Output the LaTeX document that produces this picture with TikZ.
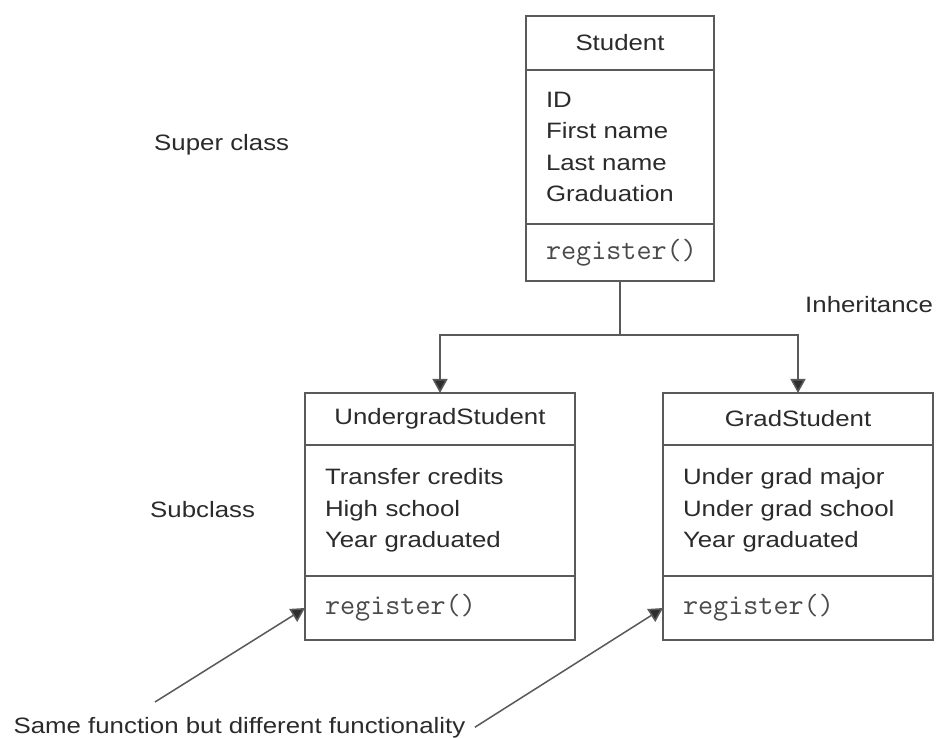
\documentclass[tikz,border=0pt]{standalone}
\usepackage{fontspec}
\setmainfont{Liberation Sans}[FakeStretch=1.16]
\usetikzlibrary{
    arrows.meta,
    positioning
}
\definecolor{linecol}{HTML}{5A5A5A}
\definecolor{tipcol}{HTML}{2E2E2E}
\definecolor{textcol}{HTML}{2B2B2B}
\definecolor{codecol}{HTML}{4A4A4A}

\begin{document}
\begin{tikzpicture}[
    x=0.03cm, y=-0.03cm,
    font=\fontsize{19}{26.7}\selectfont,
    text=textcol,
    % ── Class Box Styles ──
    box/.style={
        draw=linecol, line width=1.3pt,
        outer sep=0pt, fill=white
    },
    clsname/.style={
        box, anchor=north west, inner sep=0pt,
        minimum width=#1, minimum height=1.56cm
    },
    clsattr/.style={
        box, text width=#1, inner xsep=0.6cm, inner ysep=0pt,
        align=left, minimum height=3.93cm
    },
    clsops/.style={
        box, text width=#1, inner xsep=0.6cm, inner ysep=0pt,
        align=left, minimum height=1.92cm,
        font=\ttfamily\fontsize{25}{26.7}\selectfont, text=codecol
    },
    % ── Arrow Styles ──
    line/.style={draw=linecol, line width=1.3pt},
    arr/.style={line, -{Triangle[length=0.42cm, width=0.45cm, fill=tipcol]}},
    % ── Label Styles ──
    lbl/.style={anchor=base west, inner sep=0pt},
]

\useasboundingbox[fill=white] (0,0) rectangle (938,738);

% ────────────────────────────────
%  SUPER CLASS
% ────────────────────────────────
\node[clsname=5.64cm, minimum height=1.62cm] (stuName) at (526,16) {Student};
\node[clsattr=4.44cm, minimum height=4.62cm, below=0pt of stuName] (stuAttr) {
    ID\\
    First name\\
    Last name\\
    Graduation
};
\node[clsops=4.44cm, minimum height=1.71cm, below=0pt of stuAttr] (stuOps) {register()};

\node[lbl] (superLbl) at (154,151) {Super class};

% ────────────────────────────────
%  SUBCLASSES
% ────────────────────────────────
\node[clsname=8.1cm] (ugName) at (305,393) {UndergradStudent};
\node[clsattr=6.9cm, below=0pt of ugName] (ugAttr) {
    Transfer credits\\
    High school\\
    Year graduated
};
\node[clsops=6.9cm, below=0pt of ugAttr] (ugOps) {register()};

\node[clsname=8.1cm] (gdName) at (663,393) {GradStudent};
\node[clsattr=6.9cm, below=0pt of gdName] (gdAttr) {
    Under grad major\\
    Under grad school\\
    Year graduated
};
\node[clsops=6.9cm, below=0pt of gdAttr] (gdOps) {register()};

\node[lbl] (subLbl) at (150,518) {Subclass};

% ── Inheritance tree ──
\coordinate (split) at (620,335);
\draw[line] (stuOps.south) -- (split);
\draw[arr] (split) -| (ugName.north);
\draw[arr] (split) -| (gdName.north);

\node[lbl] (inhLbl) at (805,313) {Inheritance};

% ────────────────────────────────
%  NOTE
% ────────────────────────────────
\node[lbl, inner xsep=8pt] (note) at (4,733) {Same function but different functionality};
\coordinate (noteTail) at (155,702);

\draw[arr] (noteTail) -- (ugOps.west);
\draw[arr] (note.east) -- (gdOps.west);

\end{tikzpicture}
\end{document}
